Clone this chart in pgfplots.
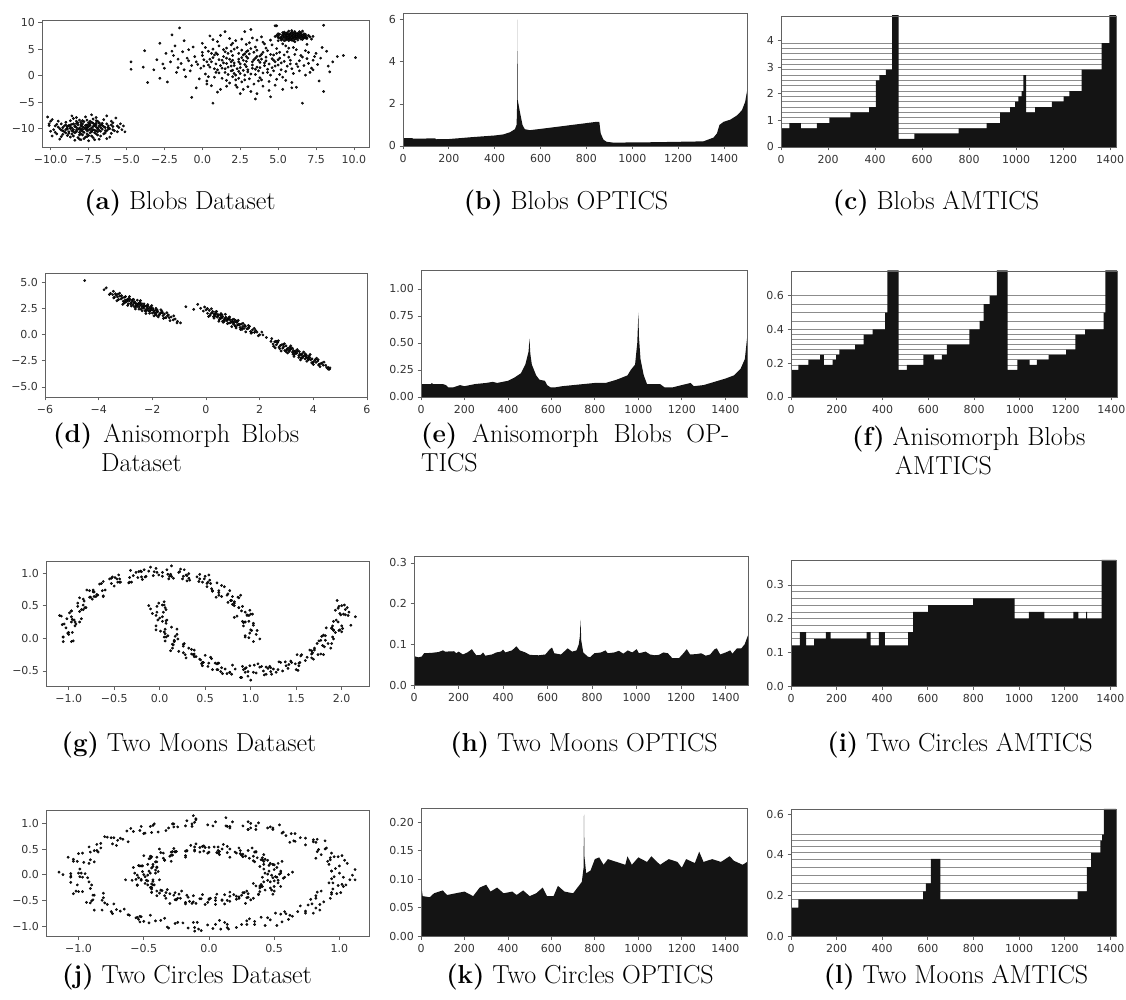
\documentclass[border=0pt]{standalone}
\usepackage{fontspec}
\usepackage{pgfplots}
\pgfplotsset{compat=1.18}
\newfontfamily\dejavu{DejaVu Sans}
\newcommand\tickfont{\dejavu\fontsize{11}{12}\selectfont}
\newcommand\capfont{\fontsize{26}{31}\selectfont}
\definecolor{framegray}{gray}{0.38}
\definecolor{ticktext}{gray}{0.2}
\definecolor{fillblack}{gray}{0.08}
\definecolor{linegray}{gray}{0.55}
\definecolor{dotcol}{gray}{0.1}
\pgfplotsset{
  panel/.style={scale only axis, anchor=south west,
    axis line style={framegray, line width=0.8pt},
    every tick/.style={framegray, line width=0.8pt},
    major tick length=3.5pt, tick align=outside,
    xtick pos=left, ytick pos=left,
    ticklabel style={font=\tickfont, text=ticktext},
    xticklabel shift=1.5pt,
    axis on top},
  dots/.style={only marks, mark=*, mark size=1.2pt, mark options={draw=none, fill=dotcol}},
  optics/.style={panel, xmin=0, xmax=1500, ymin=0, xtick={0,200,...,1400}, xticklabels={0,200,400,600,800,1000,1200,1400}},
  amtics/.style={panel, xmin=0, ymin=0, xtick={0,200,...,1400}, xticklabels={0,200,400,600,800,1000,1200,1400}},
  blk/.style={fill=fillblack, draw=none},
  lev/.style={linegray, line width=0.7pt, unbounded coords=jump},
}
\begin{document}
\begin{tikzpicture}
\useasboundingbox (0pt,0pt) rectangle (1126pt,999pt);
% (a)
\begin{axis}[panel, at={(42pt,852pt)}, width=327pt, height=127pt,
  xmin=-10.57, xmax=10.99, ymin=-13.47, ymax=10.5,
  xtick={-10,-7.5,-5,-2.5,0,2.5,5,7.5,10}, xticklabels={−10.0,−7.5,−5.0,−2.5,0.0,2.5,5.0,7.5,10.0},
  ytick={-10,-5,0,5,10}, yticklabels={−10,−5,0,5,10}]
\addplot[dots] coordinates {
(-7.8,-9.8)(-8.2,-10.1)(-7.1,-9.4)(-8.9,-9.9)(-6.8,-10.3)(-7.5,-8.9)(-8.4,-10.8)(-7.9,-11.2)(-6.5,-9.6)(-9.2,-10.4)
(-8.6,-9.2)(-7.3,-10.6)(-6.9,-8.6)(-8.1,-8.4)(-9.5,-9.7)(-7.6,-10.0)(-7.0,-11.0)(-8.8,-10.9)(-6.2,-10.1)(-7.4,-9.1)
(-8.0,-9.5)(-9.0,-8.8)(-6.6,-9.0)(-7.7,-11.6)(-8.5,-11.4)(-6.0,-9.3)(-9.8,-10.2)(-7.2,-8.2)(-8.3,-7.9)(-6.4,-10.8)
(-7.9,-10.5)(-8.7,-10.0)(-7.0,-9.7)(-9.3,-9.1)(-6.7,-11.4)(-8.1,-12.0)(-7.5,-12.3)(-5.8,-10.4)(-9.6,-11.0)(-10.1,-9.4)
(-5.5,-9.8)(-5.1,-10.6)(-5.7,-8.0)(-10.2,-7.8)(-9.9,-8.3)(-6.3,-7.6)(-7.3,-7.4)(-8.6,-7.6)(-9.4,-12.0)(-7.1,-12.1)
(-6.1,-11.6)(-5.3,-10.2)(-8.3,-9.0)(-7.6,-9.3)(-7.2,-10.2)(-8.0,-10.4)(-6.9,-9.9)(-8.4,-9.6)(-7.4,-10.8)(-6.7,-10.5)
(-9.1,-10.6)(-8.9,-11.3)(-6.3,-9.1)(-7.8,-8.7)(-8.7,-8.5)(-7.0,-8.5)(-5.9,-8.9)(-9.7,-9.5)(-10.0,-10.5)(-6.0,-10.9)
(-7.6,-11.0)(-8.2,-11.7)(-6.8,-12.0)(-7.3,-11.4)(-9.3,-11.5)(-5.6,-9.5)(-8.5,-8.1)(-7.7,-7.8)(-6.5,-8.3)(-9.0,-9.3)
(-8.1,-9.9)(-7.5,-9.6)(-7.9,-10.2)(-6.4,-9.8)(-8.6,-10.4)(-7.2,-9.0)(-8.8,-9.4)(-7.0,-10.4)(-6.6,-10.1)(-8.3,-10.6)
(-9.4,-10.0)(-6.2,-9.5)(-7.4,-8.6)(-8.0,-8.8)(-6.9,-11.2)(-7.8,-11.9)(-8.4,-12.2)(-5.4,-9.1)(-9.5,-8.6)(-10.1,-9.1)
(-7.1,-9.2)(-8.7,-9.7)(-7.6,-10.4)(-6.1,-10.0)(-8.2,-9.3)(-7.3,-9.9)(-6.7,-9.3)(-9.2,-9.8)(-7.9,-9.1)(-8.5,-10.2)
(-6.8,-9.5)(-7.5,-10.3)(-8.9,-10.1)(-6.3,-10.4)(-7.7,-9.4)(-8.1,-10.7)(-7.0,-9.0)(-8.6,-11.0)(-9.0,-10.8)(-5.9,-9.6)
(-7.6,-9.7)(-8.3,-10.3)(-7.2,-9.6)(-8.0,-9.2)(-7.4,-10.1)(-8.6,-9.9)(-6.9,-10.0)(-7.8,-10.7)(-8.2,-8.9)(-7.0,-9.3)
(-7.7,-10.1)(-8.4,-9.4)(-6.6,-9.4)(-7.3,-8.8)(-8.8,-10.6)(-7.5,-11.3)(-6.4,-10.4)(-9.1,-9.5)(-7.9,-8.5)(-8.0,-11.0)
(-7.1,-10.8)(-8.5,-9.1)(-6.8,-8.9)(-9.3,-10.3)(-7.6,-8.4)(-6.2,-9.8)(-8.7,-11.6)(-7.2,-11.7)(-9.6,-9.2)(-5.9,-10.2)
(-8.1,-10.1)(-7.4,-9.4)(-7.9,-9.6)(-6.7,-9.8)(-8.5,-10.6)(-7.1,-10.3)(-8.9,-9.6)(-7.6,-11.5)(-6.5,-11.0)(-9.7,-10.7)
(-8.3,-8.6)(-7.0,-7.9)(-9.2,-11.1)(-6.0,-8.6)(-8.0,-12.1)(-5.6,-10.6)(-10.0,-8.6)(-9.9,-11.4)(-6.3,-11.9)(-5.2,-9.5)
(-7.7,-9.9)(-8.3,-9.8)(-7.3,-10.4)(-8.0,-10.0)(-6.9,-10.6)(-8.7,-9.3)(-7.5,-9.3)(-8.1,-11.2)(-6.8,-9.0)(-9.0,-10.2)
(5.9,7.4)(5.5,7.6)(6.2,7.2)(5.7,7.0)(6.4,7.7)(5.2,7.3)(6.0,7.9)(5.8,6.8)(6.6,7.3)(5.4,7.9)
(6.1,6.9)(5.6,7.4)(6.3,8.0)(5.0,7.5)(6.8,7.5)(5.9,8.2)(5.3,6.9)(6.5,6.9)(5.7,7.8)(6.0,7.1)
(5.5,7.1)(6.2,7.6)(5.8,7.6)(6.4,7.2)(5.1,7.8)(6.7,7.9)(5.6,8.1)(6.1,8.3)(5.4,7.2)(6.9,7.2)
(5.9,6.7)(5.2,7.0)(6.3,6.7)(5.7,8.4)(6.5,8.1)(5.0,7.2)(4.9,7.6)(7.0,7.6)(6.6,6.8)(5.5,6.7)
(6.0,7.6)(5.8,7.3)(6.2,7.9)(5.6,7.7)(6.4,7.5)(5.3,7.6)(6.1,7.4)(5.9,7.0)(6.7,7.1)(5.4,8.2)
(6.3,7.4)(5.7,7.2)(6.0,8.0)(5.5,7.9)(6.5,7.6)(5.1,7.1)(6.8,7.8)(5.8,8.0)(6.2,7.0)(5.6,6.9)
(4.8,7.4)(7.1,7.3)(6.4,8.3)(5.3,8.1)(6.9,7.0)(5.2,6.7)(6.0,6.6)(5.9,8.5)(6.6,8.4)(5.4,6.6)
(6.1,7.7)(5.7,7.5)(6.3,7.1)(5.5,7.3)(6.0,7.3)(5.8,7.8)(6.2,7.4)(5.6,7.1)(6.4,7.9)(5.9,7.7)
(5.0,7.9)(6.7,7.4)(5.3,7.4)(6.5,7.3)(5.8,7.1)(6.1,8.1)(5.5,8.0)(6.3,7.8)(5.7,6.6)(6.8,7.1)
(6.0,7.5)(5.6,7.6)(6.2,7.8)(5.4,7.5)(6.6,7.6)(5.9,7.2)(6.1,7.0)(5.3,7.8)(6.5,7.8)(5.8,7.5)
(4.9,9.4)(7.3,7.4)(7.2,6.9)
(2.1,2.4)(3.5,1.2)(0.8,3.9)(4.2,2.8)(1.5,0.6)(2.9,4.5)(-0.3,2.1)(3.8,-0.4)(5.1,3.3)(1.1,5.6)
(2.6,-1.2)(4.6,1.5)(0.2,0.3)(3.1,6.2)(1.9,1.8)(5.5,0.8)(-1.0,3.3)(2.4,3.1)(3.9,4.0)(0.6,-1.9)
(4.9,5.1)(2.0,-0.2)(1.3,2.9)(3.3,2.0)(-0.6,5.4)(5.8,2.2)(2.8,0.1)(0.0,6.1)(4.4,-1.1)(1.7,4.2)
(3.6,3.6)(-1.6,1.5)(2.3,5.3)(6.1,4.0)(1.0,1.1)(4.0,0.5)(2.7,-2.6)(0.4,4.6)(5.3,-0.3)(3.0,3.3)
(-2.1,2.6)(1.6,-0.9)(4.7,3.9)(2.2,6.6)(0.9,2.2)(3.4,-1.6)(5.9,1.3)(1.4,3.6)(2.5,1.5)(-0.2,-0.6)
(4.3,4.7)(3.7,0.9)(0.5,1.6)(2.9,2.7)(6.4,2.8)(1.8,7.0)(-1.3,4.5)(3.2,-3.0)(5.0,2.0)(2.0,3.8)
(0.1,3.0)(4.1,1.9)(2.6,4.8)(-0.8,0.9)(3.5,5.4)(1.2,-2.6)(5.6,4.5)(2.4,0.8)(0.7,5.0)(3.8,2.5)
(-1.9,3.8)(4.5,0.1)(1.5,1.3)(2.8,-0.8)(6.7,1.9)(0.3,-1.0)(3.1,4.1)(5.2,1.1)(1.9,2.6)(-0.5,3.6)
(2.2,-1.8)(4.8,2.6)(1.0,6.4)(3.6,1.6)(-1.1,-0.2)(2.7,3.9)(5.7,3.5)(0.6,2.6)(4.0,-2.0)(1.7,0.2)
(3.3,7.1)(-2.5,1.4)(2.0,1.0)(6.0,0.4)(0.9,4.3)(3.9,3.1)(1.3,-0.5)(4.6,5.8)(2.5,2.2)(-0.1,1.4)
(5.4,2.7)(2.9,5.9)(1.6,3.3)(3.7,-1.0)(0.2,5.3)(4.3,1.2)(-1.4,2.3)(2.3,-2.2)(6.9,3.2)(1.1,0.5)
(3.0,1.1)(4.9,-0.7)(0.4,2.0)(2.6,6.9)(5.1,4.4)(1.8,-1.4)(-0.9,4.9)(3.4,4.4)(2.1,0.4)(7.0,2.3)
(0.8,-0.3)(4.2,3.5)(1.4,4.9)(3.2,0.3)(-1.7,0.6)(5.5,5.6)(2.4,-0.5)(0.0,3.8)(4.7,0.9)(1.9,5.8)
(7.3,2.9)(6.3,1.7)(7.1,0.6)(6.5,3.8)(7.6,2.1)(6.8,0.1)(5.9,-1.3)(7.4,3.6)(6.2,4.9)(7.2,1.4)
(-4.7,2.6)(-4.7,1.2)(-3.8,4.7)(-3.9,1.6)(-3.6,-1.3)(-2.8,6.1)(-2.4,4.2)(-1.5,9.0)(-2.0,7.7)(-0.7,-4.1)
(0.7,-5.2)(6.6,-5.2)(4.5,-4.0)(9.3,3.8)(10.1,3.4)(8.0,9.5)(8.0,-3.0)(7.7,-1.0)(8.3,1.8)(8.4,0.7)
(8.2,4.6)(3.2,8.7)(4.8,9.4)(1.5,8.3)(6.2,-2.2)(-2.8,-0.5)(-2.3,-1.2)(-1.2,6.6)(0.5,7.5)(2.8,8.3)
(-0.4,-2.3)(1.0,-3.1)(3.6,-3.4)(5.3,-2.6)(7.9,5.3)(-3.0,3.0)(-1.8,5.6)(7.5,4.2)(8.6,2.6)(5.0,6.6)
(4.5,6.7)(3.9,7.3)(6.9,5.9)(4.1,6.0)(5.7,5.2)
(1.2,1.9)(2.7,2.9)(3.4,3.0)(0.3,2.6)(4.4,2.2)(1.8,3.1)(2.2,0.1)(3.0,4.7)(5.0,3.0)(1.6,2.3)
(2.9,1.7)(0.7,3.4)(3.8,1.5)(2.4,4.2)(4.6,3.2)(1.3,1.4)(3.3,2.6)(5.6,1.8)(0.9,0.6)(2.6,3.4)
(4.0,4.4)(1.9,0.9)(3.5,0.2)(0.1,1.8)(2.1,5.0)(4.8,1.8)(3.1,-0.6)(1.5,4.5)(5.4,3.9)(2.8,2.1)
(0.5,3.1)(3.7,2.9)(2.0,2.9)(4.3,0.6)(1.1,3.0)(3.2,5.1)(5.8,2.9)(2.3,1.3)(-0.4,2.6)(4.1,2.4)
(1.7,1.6)(3.6,4.8)(2.5,0.4)(0.8,1.3)(4.9,4.2)(2.9,3.6)(1.4,2.4)(3.9,-0.8)(5.2,2.4)(0.0,4.4)
(2.7,1.0)(4.5,4.0)(1.0,4.0)(3.3,1.4)(6.2,2.2)(1.9,4.6)(3.8,3.7)(2.1,1.9)(-0.7,1.9)(4.7,2.9)
(2.4,2.6)(3.0,0.7)(0.6,4.2)(5.1,0.2)(1.6,5.2)(3.5,3.3)(2.2,-0.8)(4.2,5.2)(0.4,-0.2)(2.8,4.1)
(6.6,3.5)(5.5,-0.9)(7.0,4.4)(6.0,5.3)(4.8,-1.8)(-1.2,1.1)(-0.9,2.8)(-2.0,4.6)(0.3,-1.6)(1.6,-2.0)
(3.0,-2.1)(2.0,6.1)(4.0,6.3)(5.3,6.0)(3.6,6.7)(6.4,0.9)(7.3,1.1)(-1.6,3.1)(0.7,6.8)(2.5,-3.4)
(4.4,-2.8)(5.9,-2.3)(7.8,3.3)(6.8,4.7)(-2.6,2.2)(-3.2,1.1)(1.2,7.6)(3.5,-4.4)(6.1,6.4)(8.9,3.6)};
\end{axis}
% (b)
\begin{axis}[optics, at={(403pt,853pt)}, width=344pt, height=133pt, ymax=6.32, ytick={0,2,4,6}, yticklabels={0,2,4,6}]
\addplot[blk] coordinates {(0,0.38)(40,0.37)(45,0.35)(140,0.36)(145,0.32)(200,0.33)(300,0.42)(400,0.5)(437,0.55)(466,0.65)(488,0.8)(495,1.0)(497,1.6)(498,4.0)(498.6,6.0)(499.2,4.0)(500,2.2)(510,1.6)(521,1.0)(531,0.8)(553,0.75)(700,0.95)(845,1.15)(856,1.15)(862,0.6)(874,0.3)(888,0.2)(917,0.16)(1100,0.18)(1310,0.22)(1354,0.4)(1369,0.6)(1380,1.0)(1398,1.15)(1427,1.25)(1456,1.45)(1478,1.7)(1492,2.1)(1500,2.6)} \closedcycle;
\end{axis}
% (c)
\begin{axis}[amtics, at={(781pt,852pt)}, width=335pt, height=131pt, xmax=1425, ymax=4.915, ytick={0,1,2,3,4}, yticklabels={0,1,2,3,4}]
\addplot[lev] coordinates {(0,0.5)(1425,0.5)(0,nan)(0,0.7)(1425,0.7)(0,nan)(0,0.9)(1425,0.9)(0,nan)(0,1.1)(1425,1.1)(0,nan)(0,1.3)(1425,1.3)(0,nan)(0,1.5)(1425,1.5)(0,nan)(0,1.7)(1425,1.7)(0,nan)(0,1.9)(1425,1.9)(0,nan)(0,2.1)(1425,2.1)(0,nan)(0,2.3)(1425,2.3)(0,nan)(0,2.5)(1425,2.5)(0,nan)(0,2.7)(1425,2.7)(0,nan)(0,2.9)(1425,2.9)(0,nan)(0,3.1)(1425,3.1)(0,nan)(0,3.3)(1425,3.3)(0,nan)(0,3.5)(1425,3.5)(0,nan)(0,3.7)(1425,3.7)(0,nan)(0,3.9)(1425,3.9)};
\addplot[blk, const plot] coordinates {(0,0.7)(35.5,0.9)(85,0.7)(153,0.9)(206,1.1)(295,1.3)(375,1.5)(404,2.5)(418,2.7)(446,2.9)(473,4.95)(500,0.3)(567,0.5)(756,0.7)(875,0.9)(932,1.3)(975,1.5)(996,1.7)(1010,1.9)(1024,2.1)(1031,2.7)(1043,1.3)(1081,1.5)(1152,1.7)(1202,1.9)(1227,2.1)(1279,2.9)(1364,3.9)(1397,4.95)(1425,4.95)} \closedcycle;
\end{axis}
% (d)
\begin{axis}[panel, at={(45pt,602pt)}, width=322pt, height=124pt,
  xmin=-6, xmax=6, ymin=-5.96, ymax=5.9,
  xtick={-6,-4,-2,0,2,4,6}, xticklabels={−6,−4,−2,0,2,4,6},
  ytick={-5,-2.5,0,2.5,5}, yticklabels={−5.0,−2.5,0.0,2.5,5.0}]
\addplot[dots] coordinates {
(-3.48,3.83)(-3.41,3.59)(-3.35,3.80)(-3.30,3.62)(-3.26,3.36)(-3.21,3.69)(-3.17,3.42)(-3.12,3.52)(-3.08,3.20)(-3.05,3.57)
(-3.01,3.31)(-2.97,3.17)(-2.93,3.37)(-2.90,2.95)(-2.86,3.24)(-2.83,3.38)(-2.79,3.02)(-2.76,3.18)(-2.72,2.86)(-2.69,3.02)
(-2.66,3.16)(-2.62,2.70)(-2.59,2.95)(-2.55,2.82)(-2.52,2.99)(-2.49,2.66)(-2.45,2.84)(-2.42,2.44)(-2.39,2.96)(-2.35,2.66)
(-2.32,2.53)(-2.28,2.72)(-2.25,2.36)(-2.21,2.72)(-2.18,2.52)(-2.14,2.30)(-2.11,2.52)(-2.07,2.33)(-2.03,2.52)(-2.00,2.07)
(-1.96,2.33)(-1.92,2.11)(-1.88,2.34)(-1.84,2.12)(-1.80,2.20)(-1.75,1.88)(-1.70,2.05)(-1.65,2.15)(-1.60,1.82)(-1.55,1.97)
(-1.49,1.64)(-1.43,1.81)(-1.37,1.62)(-1.30,1.70)(-1.22,1.42)(-1.15,1.50)(-1.06,1.28)(-0.95,1.13)
(-3.44,3.52)(-3.38,3.92)(-3.15,3.73)(-3.03,3.07)(-2.95,3.30)(-2.81,2.96)(-2.74,3.34)(-2.64,3.04)(-2.57,2.69)(-2.47,3.00)
(-2.37,2.61)(-2.30,2.78)(-2.23,2.26)(-2.16,2.72)(-2.09,2.27)(-2.05,2.43)(-1.98,2.50)(-1.90,2.00)(-1.82,2.35)(-1.72,1.99)
(-1.62,2.08)(-1.52,1.62)(-1.40,1.88)(-3.56,3.96)(-3.60,3.85)(-4.52,5.18)(-3.80,4.30)(-3.72,4.48)
(-3.45,4.15)(-3.32,3.24)(-3.22,3.97)(-3.10,2.90)(-3.00,3.65)(-2.92,2.80)(-2.85,3.65)(-2.78,2.75)(-2.70,3.38)(-2.63,2.46)
(-2.56,3.30)(-2.50,2.44)(-2.44,3.26)(-2.38,2.28)(-2.31,2.94)(-2.24,2.02)(-2.17,2.88)(-2.10,2.05)(-2.02,2.78)(-1.94,1.80)
(-1.86,2.52)(-1.78,1.70)(-1.68,2.38)(-1.58,1.56)(-1.46,2.10)(-1.34,1.34)(-1.20,1.80)(-1.08,1.13)(-3.28,3.88)(-3.05,3.03)
(-2.88,3.48)(-2.67,2.67)(-2.47,3.08)(-2.27,2.26)(-2.06,2.66)(-1.85,1.85)(-1.64,2.22)(-2.60,2.90)(-2.20,2.52)(-2.95,3.20)
(-1.95,2.30)(-2.40,2.80)
(-0.20,2.52)(-0.10,2.26)(0.00,2.37)(0.06,2.04)(0.12,2.32)(0.18,2.01)(0.23,2.10)(0.28,1.73)(0.33,1.91)(0.38,2.02)
(0.42,1.68)(0.46,1.82)(0.50,1.46)(0.54,1.92)(0.58,1.59)(0.62,1.71)(0.66,1.37)(0.70,1.53)(0.74,1.66)(0.78,1.33)
(0.82,1.46)(0.86,1.12)(0.90,1.43)(0.94,1.23)(0.98,1.43)(1.02,1.01)(1.06,1.17)(1.10,0.79)(1.14,1.19)(1.18,0.92)
(1.22,1.02)(1.27,0.69)(1.32,1.02)(1.37,0.77)(1.42,0.60)(1.47,0.80)(1.53,0.56)(1.59,0.64)(1.66,0.30)(1.73,0.46)
(1.81,0.22)(1.90,0.25)(2.00,-0.01)(2.12,-0.02)(2.25,-0.26)
(0.15,1.84)(0.25,2.22)(0.35,1.79)(0.45,1.92)(0.52,1.59)(0.60,1.88)(0.68,1.28)(0.76,1.43)(0.84,1.54)(0.92,1.16)
(1.00,1.25)(1.08,0.88)(1.16,1.26)(1.25,0.95)(1.34,0.58)(1.44,0.91)(1.56,0.59)(1.70,0.21)(1.85,0.41)
(-0.75,2.68)(-0.46,2.42)(-0.31,2.90)
(-0.05,2.65)(0.10,1.74)(0.20,2.48)(0.30,1.58)(0.40,2.22)(0.48,1.28)(0.56,2.01)(0.64,1.18)(0.72,1.95)(0.80,1.06)
(0.88,1.70)(0.96,0.77)(1.04,1.48)(1.12,0.64)(1.20,1.37)(1.29,0.50)(1.38,1.09)(1.48,0.27)(1.58,0.88)(1.68,0.14)
(1.80,0.61)(1.95,-0.11)(2.08,0.25)(0.05,2.50)(0.35,2.18)(0.62,1.28)(0.85,1.63)(1.10,1.36)(1.34,0.50)(1.62,0.80)
(0.55,1.66)(0.72,1.49)(0.98,1.19)(1.20,0.95)(0.30,1.98)
(2.42,-0.64)(2.50,-0.90)(2.56,-0.69)(2.62,-0.96)(2.67,-0.75)(2.72,-1.20)(2.77,-1.04)(2.82,-0.97)(2.86,-1.28)(2.90,-1.14)
(2.94,-1.51)(2.98,-1.07)(3.02,-1.38)(3.06,-1.29)(3.10,-1.60)(3.14,-1.44)(3.18,-1.34)(3.22,-1.67)(3.26,-1.53)(3.30,-1.89)
(3.34,-1.57)(3.38,-1.78)(3.42,-1.58)(3.46,-1.99)(3.50,-1.84)(3.54,-2.21)(3.58,-1.82)(3.62,-2.09)(3.66,-2.00)(3.70,-2.31)
(3.74,-1.97)(3.78,-2.22)(3.82,-2.38)(3.86,-2.18)(3.90,-2.40)(3.95,-2.31)(4.00,-2.63)(4.05,-2.46)(4.10,-2.64)(4.16,-2.53)
(4.22,-2.82)(4.29,-2.76)(4.37,-2.92)(4.46,-2.93)(4.55,-3.14)(4.62,-3.17)(4.60,-3.30)
(2.60,-0.64)(2.75,-1.34)(2.88,-0.92)(3.00,-1.49)(3.12,-1.22)(3.24,-1.86)(3.36,-1.70)(3.48,-1.62)(3.60,-2.22)(3.72,-2.11)
(3.84,-2.05)(3.96,-2.67)(4.08,-2.36)(4.20,-2.90)(4.33,-2.70)(4.50,-3.16)(2.52,-1.10)
(2.45,-0.37)(2.58,-1.27)(2.70,-0.58)(2.80,-1.56)(2.92,-0.87)(3.04,-1.75)(3.16,-1.07)(3.28,-2.08)(3.40,-1.43)(3.52,-2.41)
(3.64,-1.66)(3.76,-2.54)(3.88,-1.89)(4.00,-2.85)(4.12,-2.25)(4.25,-3.05)(4.40,-2.62)(4.56,-3.30)(2.65,-0.64)(2.98,-1.62)
(3.22,-1.29)(3.46,-2.17)(3.70,-1.83)(3.94,-2.70)(4.18,-2.39)(3.10,-1.45)(3.30,-1.68)(3.55,-1.96)(3.80,-2.26)};
\end{axis}
% (e)
\begin{axis}[optics, at={(421pt,602pt)}, width=326pt, height=127pt, ymax=1.175,
  ytick={0,0.25,0.5,0.75,1}, yticklabels={0.00,0.25,0.50,0.75,1.00}]
\addplot[blk] coordinates {(0,0.12)(45,0.12)(50,0.13)(55,0.12)(100,0.12)(115,0.11)(125,0.09)(150,0.09)(165,0.10)(180,0.11)(200,0.10)(250,0.12)(300,0.13)(330,0.14)(350,0.13)(400,0.15)(430,0.18)(460,0.22)(480,0.3)(495,0.42)(499,0.54)(503,0.4)(510,0.3)(520,0.25)(530,0.2)(545,0.16)(570,0.15)(580,0.11)(595,0.09)(620,0.09)(650,0.1)(700,0.11)(750,0.12)(800,0.13)(850,0.13)(900,0.16)(950,0.2)(965,0.25)(985,0.3)(995,0.5)(998,0.65)(1000,0.78)(1003,0.55)(1010,0.35)(1025,0.2)(1040,0.12)(1100,0.12)(1120,0.09)(1160,0.09)(1200,0.11)(1240,0.13)(1255,0.10)(1300,0.11)(1350,0.14)(1400,0.17)(1440,0.2)(1470,0.26)(1490,0.35)(1500,0.54)} \closedcycle;
\end{axis}
% (f)
\begin{axis}[amtics, at={(791pt,602pt)}, width=326pt, height=126pt, xmax=1425, ymax=0.746,
  ytick={0,0.2,0.4,0.6}, yticklabels={0.0,0.2,0.4,0.6}]
\addplot[lev] coordinates {(0,0.16)(1425,0.16)(0,nan)(0,0.19)(1425,0.19)(0,nan)(0,0.22)(1425,0.22)(0,nan)(0,0.25)(1425,0.25)(0,nan)(0,0.28)(1425,0.28)(0,nan)(0,0.31)(1425,0.31)(0,nan)(0,0.34)(1425,0.34)(0,nan)(0,0.37)(1425,0.37)(0,nan)(0,0.40)(1425,0.40)(0,nan)(0,0.45)(1425,0.45)(0,nan)(0,0.50)(1425,0.50)(0,nan)(0,0.55)(1425,0.55)(0,nan)(0,0.60)(1425,0.60)};
\addplot[blk, const plot] coordinates {(0,0.16)(32,0.19)(76,0.22)(127,0.25)(144,0.19)(182,0.22)(197,0.25)(211,0.28)(280,0.31)(317,0.37)(357,0.40)(411,0.50)(421,0.75)(470,0.16)(506,0.19)(579,0.25)(626,0.22)(659,0.25)(681,0.31)(780,0.40)(824,0.45)(842,0.55)(868,0.60)(900,0.75)(947,0.16)(990,0.22)(1043,0.19)(1075,0.22)(1126,0.25)(1203,0.28)(1243,0.37)(1286,0.40)(1367,0.50)(1374,0.75)(1425,0.75)} \closedcycle;
\end{axis}
% (g)
\begin{axis}[panel, at={(46pt,313pt)}, width=323pt, height=125pt,
  xmin=-1.249, xmax=2.30, ymin=-0.73, ymax=1.184,
  xtick={-1,-0.5,0,0.5,1,1.5,2}, xticklabels={−1.0,−0.5,0.0,0.5,1.0,1.5,2.0},
  ytick={-0.5,0,0.5,1}, yticklabels={−0.5,0.0,0.5,1.0}]
\addplot[dots] coordinates {
(1.03,-0.05)(0.94,0.02)(1.01,0.12)(0.98,0.01)(1.07,0.12)(0.94,0.04)(1.03,0.20)(0.92,0.19)(1.00,0.13)(0.98,0.26)
(0.94,0.25)(1.03,0.23)(0.94,0.40)(1.00,0.37)(0.85,0.34)(0.96,0.36)(0.87,0.47)(0.98,0.35)(0.87,0.47)(0.90,0.42)
(0.82,0.54)(0.91,0.49)(0.75,0.55)(0.86,0.63)(0.80,0.52)(0.87,0.62)(0.75,0.68)(0.78,0.58)(0.79,0.58)(0.68,0.64)
(0.74,0.66)(0.65,0.73)(0.68,0.81)(0.65,0.70)(0.71,0.79)(0.58,0.72)(0.63,0.85)(0.52,0.84)(0.57,0.76)(0.55,0.89)
(0.47,0.86)(0.56,0.84)(0.44,0.98)(0.50,0.95)(0.33,0.89)(0.44,0.91)(0.32,0.99)(0.43,0.87)(0.29,0.97)(0.32,0.92)
(0.21,1.01)(0.30,0.96)(0.12,0.98)(0.23,1.06)(0.15,0.92)(0.22,1.02)(0.08,1.05)(0.11,0.95)(0.10,0.91)(-0.01,0.97)
(0.03,0.95)(-0.06,1.02)(-0.04,1.07)(-0.07,0.96)(-0.03,1.01)(-0.16,0.94)(-0.12,1.03)(-0.23,1.02)(-0.19,0.90)(-0.21,1.03)
(-0.29,0.96)(-0.20,0.94)(-0.32,1.04)(-0.26,1.01)(-0.44,0.91)(-0.33,0.93)(-0.45,0.97)(-0.34,0.85)(-0.47,0.91)(-0.44,0.86)
(-0.55,0.91)(-0.46,0.86)(-0.64,0.84)(-0.53,0.92)(-0.60,0.74)(-0.53,0.84)(-0.66,0.83)(-0.63,0.73)(-0.62,0.65)(-0.73,0.71)
(-0.68,0.66)(-0.77,0.73)(-0.73,0.74)(-0.76,0.63)(-0.70,0.64)(-0.83,0.57)(-0.77,0.63)(-0.88,0.62)(-0.82,0.47)(-0.84,0.60)
(-0.90,0.49)(-0.81,0.47)(-0.90,0.54)(-0.84,0.51)(-0.99,0.39)(-0.88,0.41)(-0.97,0.42)(-0.86,0.30)(-0.97,0.33)(-0.94,0.28)
(-1.02,0.30)(-0.93,0.25)(-1.07,0.21)(-0.96,0.29)(-1.00,0.09)(-0.93,0.19)(-1.03,0.16)(-1.00,0.06)(-0.95,-0.04)(-1.06,0.02)
(-0.97,-0.05)(-1.06,0.02)
(0.99,0.08)(1.06,0.06)(0.94,0.25)(0.92,0.24)(0.99,0.43)(0.82,0.50)(0.82,0.56)(0.77,0.73)(0.58,0.73)(0.53,0.86)
(0.52,0.79)(0.41,0.94)(0.25,0.91)(0.27,1.05)(0.09,0.98)(0.03,1.01)(-0.15,0.95)(-0.20,1.02)(-0.31,0.86)(-0.49,0.93)
(-0.43,0.86)(-0.62,0.87)(-0.72,0.71)(-0.69,0.67)(-0.72,0.64)(-0.84,0.44)(-0.86,0.44)(-0.97,0.25)(-1.05,0.22)(-0.96,0.09)(-1.01,0.08)
(1.10,-0.01)(0.91,0.26)(1.02,0.37)(0.82,0.32)(0.96,0.35)(0.80,0.64)(0.89,0.66)(0.62,0.63)(0.65,0.66)(0.49,0.91)
(0.54,0.97)(0.26,0.95)(0.30,0.88)(0.13,1.11)(0.13,0.95)(-0.17,1.05)(-0.10,1.09)(-0.33,0.86)(-0.24,0.93)(-0.50,0.80)
(-0.52,0.94)(-0.73,0.72)(-0.62,0.64)(-0.80,0.74)(-0.74,0.60)(-0.97,0.42)(-0.88,0.25)(-1.08,0.34)(-0.92,0.22)(-1.06,-0.05)
(-0.03,0.49)(0.06,0.47)(-0.01,0.54)(0.05,0.51)(-0.08,0.38)(0.04,0.40)(-0.03,0.40)(0.08,0.28)(0.00,0.31)(0.03,0.26)
(-0.02,0.28)(0.07,0.23)(-0.04,0.19)(0.07,0.27)(0.06,0.07)(0.13,0.17)(0.06,0.14)(0.09,0.04)(0.16,-0.04)(0.05,0.02)
(0.16,-0.05)(0.07,0.02)(0.17,0.03)(0.14,-0.09)(0.27,-0.08)(0.14,-0.15)(0.26,-0.09)(0.15,-0.10)(0.28,-0.25)(0.26,-0.12)
(0.26,-0.22)(0.35,-0.24)(0.32,-0.15)(0.38,-0.18)(0.29,-0.30)(0.40,-0.28)(0.37,-0.25)(0.48,-0.37)(0.44,-0.32)(0.47,-0.37)
(0.45,-0.33)(0.54,-0.38)(0.46,-0.39)(0.57,-0.31)(0.58,-0.48)(0.65,-0.38)(0.61,-0.38)(0.64,-0.48)(0.74,-0.54)(0.63,-0.48)
(0.77,-0.52)(0.68,-0.45)(0.80,-0.41)(0.77,-0.52)(0.92,-0.48)(0.79,-0.55)(0.94,-0.46)(0.83,-0.47)(0.97,-0.58)(0.95,-0.45)
(0.97,-0.51)(1.06,-0.53)(1.04,-0.41)(1.10,-0.44)(1.03,-0.52)(1.14,-0.50)(1.12,-0.43)(1.23,-0.55)(1.19,-0.46)(1.22,-0.51)
(1.21,-0.43)(1.30,-0.48)(1.22,-0.45)(1.33,-0.37)(1.35,-0.50)(1.42,-0.40)(1.38,-0.36)(1.41,-0.46)(1.50,-0.48)(1.39,-0.42)
(1.53,-0.42)(1.44,-0.35)(1.55,-0.27)(1.53,-0.38)(1.67,-0.30)(1.54,-0.37)(1.67,-0.24)(1.56,-0.25)(1.69,-0.32)(1.67,-0.19)
(1.68,-0.22)(1.77,-0.24)(1.73,-0.08)(1.79,-0.11)(1.70,-0.15)(1.81,-0.13)(1.77,-0.03)(1.88,-0.15)(1.82,-0.03)(1.85,-0.08)
(1.82,0.04)(1.91,-0.01)(1.80,0.05)(1.91,0.13)(1.90,0.02)(1.97,0.12)(1.90,0.19)(1.93,0.09)(2.00,0.10)(1.89,0.16)
(2.00,0.19)(1.91,0.26)(1.99,0.36)(1.96,0.25)(2.07,0.35)(1.94,0.28)(2.04,0.44)(1.93,0.43)(2.02,0.37)(2.00,0.50)
(1.97,0.49)(2.06,0.47)
(0.03,0.51)(-0.04,0.35)(0.03,0.33)(0.05,0.10)(0.01,0.11)(0.20,-0.01)(0.16,-0.03)(0.21,-0.20)(0.38,-0.24)(0.50,-0.26)
(0.53,-0.43)(0.64,-0.38)(0.67,-0.51)(0.72,-0.47)(0.94,-0.52)(0.99,-0.42)(1.17,-0.55)(1.17,-0.44)(1.28,-0.52)(1.49,-0.39)
(1.45,-0.37)(1.60,-0.34)(1.70,-0.18)(1.65,-0.18)(1.75,-0.04)(1.89,-0.08)(1.91,0.12)(1.89,0.15)(2.04,0.36)(1.98,0.38)(2.03,0.51)
(-0.12,0.50)(0.07,0.44)(-0.04,0.13)(0.19,0.14)(0.06,-0.04)(0.19,0.06)(0.12,-0.19)(0.38,-0.28)(0.35,-0.17)(0.56,-0.29)
(0.47,-0.42)(0.69,-0.54)(0.63,-0.39)(0.91,-0.43)(0.89,-0.60)(1.15,-0.56)(1.08,-0.39)(1.31,-0.36)(1.25,-0.47)(1.52,-0.49)
(1.51,-0.25)(1.74,-0.25)(1.62,-0.29)(1.80,-0.25)(1.78,0.03)(1.98,0.13)(1.83,0.16)(2.01,0.15)(1.96,0.46)(2.08,0.40)
(2.15,0.33)(-1.10,0.35)(1.00,-0.64)(0.90,-0.60)(2.10,0.20)(1.95,0.58)(0.05,0.56)(-0.10,0.45)};
\end{axis}
% (h)
\begin{axis}[optics, at={(414pt,314pt)}, width=334pt, height=129pt, ymax=0.317,
  ytick={0,0.1,0.2,0.3}, yticklabels={0.0,0.1,0.2,0.3}]
\addplot[blk] coordinates {(0,0.08)(5,0.07)(20,0.068)(35,0.07)(45,0.078)(80,0.079)(110,0.081)(130,0.085)(140,0.082)(180,0.083)(190,0.078)(200,0.082)(220,0.075)(240,0.08)(260,0.088)(270,0.08)(280,0.073)(300,0.074)(310,0.08)(320,0.072)(350,0.075)(370,0.08)(390,0.082)(400,0.087)(410,0.08)(440,0.085)(460,0.095)(475,0.085)(500,0.08)(520,0.074)(560,0.073)(590,0.075)(610,0.088)(620,0.092)(630,0.078)(660,0.075)(680,0.085)(690,0.09)(710,0.082)(730,0.085)(740,0.1)(745,0.12)(748,0.16)(751,0.11)(760,0.08)(780,0.07)(790,0.068)(810,0.078)(840,0.08)(860,0.085)(870,0.078)(900,0.08)(920,0.084)(940,0.077)(960,0.085)(980,0.08)(1000,0.088)(1010,0.078)(1040,0.082)(1060,0.075)(1080,0.073)(1100,0.074)(1120,0.08)(1140,0.078)(1160,0.066)(1190,0.066)(1210,0.078)(1225,0.088)(1240,0.075)(1270,0.076)(1290,0.078)(1310,0.072)(1330,0.075)(1350,0.088)(1360,0.09)(1375,0.075)(1400,0.08)(1420,0.085)(1430,0.077)(1450,0.09)(1470,0.09)(1485,0.1)(1495,0.115)(1500,0.122)} \closedcycle;
\end{axis}
% (i)
\begin{axis}[amtics, at={(791pt,313pt)}, width=325pt, height=126pt, xmax=1425, ymax=0.374,
  ytick={0,0.1,0.2,0.3}, yticklabels={0.0,0.1,0.2,0.3}]
\addplot[lev] coordinates {(0,0.12)(1425,0.12)(0,nan)(0,0.14)(1425,0.14)(0,nan)(0,0.16)(1425,0.16)(0,nan)(0,0.18)(1425,0.18)(0,nan)(0,0.20)(1425,0.20)(0,nan)(0,0.22)(1425,0.22)(0,nan)(0,0.24)(1425,0.24)(0,nan)(0,0.26)(1425,0.26)(0,nan)(0,0.28)(1425,0.28)(0,nan)(0,0.30)(1425,0.30)};
\addplot[blk, const plot] coordinates {(0,0.12)(39,0.16)(66,0.12)(101,0.14)(153,0.16)(174,0.14)(331,0.16)(349,0.12)(385,0.16)(411,0.12)(513,0.16)(535,0.22)(601,0.24)(798,0.26)(980,0.20)(1043,0.22)(1111,0.20)(1238,0.22)(1260,0.20)(1294,0.22)(1298,0.20)(1362,0.374)(1425,0.374)} \closedcycle;
\end{axis}
% (j)
\begin{axis}[panel, at={(46pt,63pt)}, width=323pt, height=126pt,
  xmin=-1.25, xmax=1.227, ymin=-1.195, ymax=1.26,
  xtick={-1,-0.5,0,0.5,1}, xticklabels={−1.0,−0.5,0.0,0.5,1.0},
  ytick={-1,-0.5,0,0.5,1}, yticklabels={−1.0,−0.5,0.0,0.5,1.0}]
\addplot[dots] coordinates {
(1.03,-0.05)(0.94,0.07)(1.00,0.17)(0.97,0.12)(1.06,0.22)(0.92,0.20)(0.99,0.35)(0.86,0.39)(0.93,0.33)(0.89,0.50)
(0.84,0.49)(0.90,0.52)(0.80,0.68)(0.83,0.69)(0.66,0.65)(0.74,0.71)(0.63,0.80)(0.70,0.72)(0.57,0.83)(0.56,0.81)
(0.45,0.91)(0.49,0.88)(0.32,0.91)(0.38,1.01)(0.30,0.88)(0.32,1.00)(0.18,1.03)(0.16,0.94)(0.16,0.91)(-0.01,0.97)
(0.03,0.95)(-0.11,1.02)(-0.10,1.07)(-0.18,0.95)(-0.13,0.99)(-0.31,0.91)(-0.27,0.99)(-0.43,0.96)(-0.39,0.83)(-0.45,0.94)
(-0.53,0.86)(-0.49,0.81)(-0.60,0.90)(-0.58,0.84)(-0.75,0.72)(-0.68,0.71)(-0.78,0.73)(-0.71,0.57)(-0.83,0.61)(-0.83,0.52)
(-0.92,0.54)(-0.85,0.44)(-1.00,0.41)(-0.91,0.44)(-0.96,0.24)(-0.91,0.29)(-1.01,0.26)(-0.99,0.11)(-0.95,0.02)(-1.06,0.02)
(-0.97,-0.05)(-1.06,-0.03)(-0.99,-0.04)(-1.01,-0.20)(-0.90,-0.20)(-1.02,-0.32)(-0.91,-0.27)(-1.00,-0.33)(-0.89,-0.49)(-0.89,-0.40)
(-0.90,-0.51)(-0.78,-0.58)(-0.82,-0.50)(-0.73,-0.57)(-0.82,-0.69)(-0.68,-0.71)(-0.71,-0.68)(-0.56,-0.84)(-0.61,-0.79)(-0.54,-0.87)
(-0.55,-0.83)(-0.41,-0.90)(-0.50,-0.91)(-0.34,-0.85)(-0.32,-1.02)(-0.20,-0.94)(-0.24,-0.93)(-0.16,-1.04)(-0.06,-1.09)(-0.11,-1.03)
(0.03,-1.05)(-0.01,-0.98)(0.12,-0.93)(0.14,-1.03)(0.29,-0.97)(0.21,-1.03)(0.35,-0.91)(0.29,-0.90)(0.43,-0.99)(0.45,-0.84)
(0.47,-0.88)(0.61,-0.87)(0.58,-0.72)(0.68,-0.72)(0.59,-0.76)(0.74,-0.71)(0.70,-0.61)(0.85,-0.69)(0.79,-0.57)(0.85,-0.58)
(0.82,-0.46)(0.93,-0.46)(0.82,-0.41)(0.95,-0.28)(0.94,-0.38)(1.03,-0.23)(0.95,-0.16)(0.99,-0.21)(1.05,-0.20)(0.94,-0.08)
(1.00,0.03)(0.94,0.07)(1.04,0.28)(0.93,0.29)(0.94,0.42)(0.83,0.45)(0.82,0.63)(0.74,0.58)(0.59,0.76)(0.66,0.80)
(0.47,0.93)(0.36,0.88)(0.36,0.95)(0.30,1.03)(0.14,0.94)(0.05,1.03)(-0.13,0.94)(-0.28,0.99)(-0.27,0.93)(-0.42,0.99)
(-0.44,0.82)(-0.63,0.85)(-0.70,0.67)(-0.66,0.69)(-0.86,0.59)(-0.86,0.47)(-0.88,0.47)(-1.04,0.30)(-1.04,0.26)(-0.98,0.03)
(-1.00,0.03)(-1.06,-0.15)(-0.92,-0.14)(-0.97,-0.33)(-0.88,-0.40)(-0.91,-0.55)(-0.80,-0.55)(-0.74,-0.76)(-0.75,-0.72)(-0.52,-0.82)
(-0.53,-0.81)(-0.46,-0.94)(-0.26,-0.95)(-0.12,-0.93)(-0.08,-1.06)(0.05,-0.97)(0.09,-1.06)(0.14,-0.97)(0.35,-0.97)(0.40,-0.83)
(0.56,-0.92)(0.55,-0.77)(0.64,-0.81)(0.82,-0.65)(0.76,-0.59)(0.88,-0.53)(0.94,-0.35)(0.86,-0.32)(0.92,-0.16)(1.02,-0.19)
(1.10,-0.01)(0.91,0.26)(1.02,0.37)(0.82,0.32)(0.96,0.35)(0.80,0.64)(0.89,0.66)(0.62,0.63)(0.65,0.66)(0.49,0.91)
(0.54,0.97)(0.26,0.95)(0.30,0.88)(0.13,1.11)(0.13,0.95)(-0.17,1.05)(-0.10,1.09)(-0.33,0.86)(-0.24,0.93)(-0.50,0.80)
(-0.52,0.94)(-0.73,0.72)(-0.62,0.64)(-0.80,0.74)(-0.74,0.60)(-0.97,0.42)(-0.88,0.25)(-1.08,0.34)(-0.92,0.22)(-1.06,-0.05)
(-1.12,0.00)(-0.93,-0.06)(-1.04,-0.37)(-0.81,-0.36)(-0.94,-0.54)(-0.81,-0.45)(-0.88,-0.69)(-0.62,-0.78)(-0.65,-0.67)(-0.45,-0.79)
(-0.53,-0.92)(-0.31,-1.04)(-0.37,-0.89)(-0.09,-0.93)(-0.11,-1.10)(0.15,-1.06)(0.08,-0.89)(0.31,-0.86)(0.25,-0.97)(0.52,-0.99)
(0.51,-0.75)(0.74,-0.75)(0.62,-0.79)(0.80,-0.75)(0.78,-0.48)(0.98,-0.37)(0.83,-0.34)(1.01,-0.35)(0.96,-0.04)(1.08,-0.10)
(-1.15,0.05)(1.12,-0.10)(1.12,0.10)(-0.12,1.15)
(0.43,0.03)(0.52,-0.05)(0.50,0.10)(0.46,0.07)(0.55,0.07)(0.47,0.22)(0.53,0.22)(0.39,0.16)(0.49,0.20)(0.41,0.29)
(0.50,0.19)(0.40,0.29)(0.42,0.26)(0.34,0.36)(0.41,0.33)(0.26,0.35)(0.36,0.45)(0.31,0.32)(0.35,0.44)(0.24,0.47)
(0.25,0.38)(0.28,0.36)(0.14,0.43)(0.21,0.42)(0.10,0.50)(0.14,0.55)(0.08,0.45)(0.16,0.50)(0.00,0.44)(0.07,0.54)
(-0.07,0.53)(-0.01,0.42)(-0.05,0.55)(-0.11,0.48)(-0.04,0.46)(-0.14,0.57)(-0.11,0.54)(-0.26,0.45)(-0.17,0.46)(-0.27,0.51)
(-0.18,0.37)(-0.29,0.44)(-0.28,0.38)(-0.37,0.43)(-0.30,0.36)(-0.44,0.35)(-0.35,0.42)(-0.40,0.25)(-0.35,0.32)(-0.45,0.32)
(-0.43,0.20)(-0.40,0.14)(-0.52,0.17)(-0.44,0.13)(-0.54,0.18)(-0.47,0.20)(-0.51,0.06)(-0.41,0.09)(-0.55,-0.01)(-0.46,0.07)
(-0.57,0.03)(-0.48,-0.11)(-0.50,0.00)(-0.52,-0.09)(-0.43,-0.13)(-0.49,-0.04)(-0.43,-0.10)(-0.55,-0.20)(-0.43,-0.20)(-0.49,-0.17)
(-0.36,-0.31)(-0.44,-0.25)(-0.40,-0.32)(-0.44,-0.28)(-0.33,-0.35)(-0.44,-0.35)(-0.32,-0.29)(-0.33,-0.46)(-0.23,-0.38)(-0.30,-0.37)
(-0.25,-0.48)(-0.18,-0.54)(-0.26,-0.49)(-0.15,-0.52)(-0.22,-0.46)(-0.12,-0.41)(-0.12,-0.53)(0.00,-0.48)(-0.10,-0.56)(0.01,-0.46)
(-0.07,-0.47)(0.05,-0.58)(0.05,-0.45)(0.05,-0.50)(0.16,-0.52)(0.12,-0.39)(0.21,-0.42)(0.10,-0.49)(0.23,-0.46)(0.19,-0.39)
(0.32,-0.49)(0.25,-0.40)(0.30,-0.44)(0.27,-0.35)(0.38,-0.38)(0.26,-0.35)(0.39,-0.26)(0.38,-0.39)(0.47,-0.26)(0.39,-0.22)
(0.43,-0.30)(0.50,-0.32)(0.40,-0.23)(0.50,-0.23)(0.42,-0.14)(0.49,-0.06)(0.47,-0.14)(0.57,-0.07)(0.45,-0.11)(0.54,0.01)
(0.55,0.03)(0.48,-0.01)(0.42,0.11)(0.52,0.14)(0.45,0.28)(0.49,0.20)(0.37,0.33)(0.34,0.27)(0.42,0.39)(0.24,0.41)
(0.26,0.40)(0.23,0.52)(0.07,0.47)(0.04,0.54)(0.07,0.42)(0.00,0.53)(-0.11,0.46)(-0.04,0.56)(-0.18,0.46)(-0.17,0.47)
(-0.29,0.38)(-0.28,0.45)(-0.34,0.28)(-0.45,0.36)(-0.34,0.28)(-0.46,0.31)(-0.51,0.17)(-0.43,0.16)(-0.40,0.15)(-0.47,-0.01)
(-0.45,0.03)(-0.52,-0.11)(-0.56,-0.09)(-0.44,-0.18)(-0.47,-0.12)(-0.37,-0.30)(-0.45,-0.25)(-0.40,-0.41)(-0.26,-0.35)(-0.34,-0.41)
(-0.24,-0.46)(-0.17,-0.40)(-0.25,-0.49)(-0.16,-0.44)(-0.03,-0.58)(0.00,-0.47)(-0.01,-0.54)(0.16,-0.42)(0.14,-0.50)(0.23,-0.45)
(0.21,-0.48)(0.30,-0.37)(0.34,-0.46)(0.29,-0.32)(0.48,-0.30)(0.40,-0.19)(0.41,-0.23)(0.53,-0.16)(0.58,-0.05)(0.53,-0.11)
(0.41,-0.05)(0.51,-0.04)(0.42,0.20)(0.56,0.26)(0.35,0.25)(0.46,0.18)(0.36,0.44)(0.43,0.30)(0.20,0.44)(0.33,0.52)
(0.16,0.34)(0.30,0.47)(0.08,0.39)(0.11,0.59)(-0.07,0.44)(0.06,0.43)(-0.10,0.60)(-0.03,0.53)(-0.26,0.44)(-0.18,0.34)
(-0.38,0.50)(-0.25,0.45)(-0.41,0.25)(-0.29,0.26)(-0.50,0.37)(-0.40,0.34)(-0.58,0.14)(-0.41,0.03)(-0.53,0.17)(-0.39,0.06)
(-0.59,-0.11)(-0.47,-0.20)(-0.54,-0.06)(-0.38,-0.10)(-0.55,-0.21)(-0.38,-0.36)(-0.42,-0.20)(-0.27,-0.40)(-0.44,-0.34)(-0.21,-0.32)
(-0.30,-0.56)(-0.06,-0.47)(-0.18,-0.57)(-0.05,-0.39)(-0.13,-0.56)(0.12,-0.57)(0.06,-0.38)(0.23,-0.43)(0.10,-0.50)(0.28,-0.56)
(0.16,-0.34)(0.39,-0.33)(0.29,-0.45)(0.49,-0.38)(0.34,-0.17)(0.50,-0.12)(0.36,-0.22)(0.55,-0.23)(0.45,0.01)(0.61,0.00)
(-0.64,-0.10)(0.64,0.05)};
\end{axis}
% (k)
\begin{axis}[optics, at={(421pt,63pt)}, width=326pt, height=128pt, ymax=0.2247,
  ytick={0,0.05,0.1,0.15,0.2}, yticklabels={0.00,0.05,0.10,0.15,0.20}]
\addplot[blk] coordinates {(0,0.09)(8,0.07)(40,0.068)(60,0.075)(100,0.08)(120,0.072)(160,0.075)(200,0.078)(240,0.07)(270,0.085)(300,0.09)(320,0.078)(350,0.085)(380,0.075)(420,0.078)(440,0.072)(470,0.08)(500,0.07)(530,0.075)(560,0.085)(580,0.07)(610,0.07)(630,0.088)(660,0.078)(700,0.075)(720,0.085)(740,0.095)(748,0.12)(750,0.213)(752,0.14)(760,0.11)(780,0.115)(800,0.135)(820,0.138)(840,0.125)(860,0.135)(900,0.13)(940,0.125)(950,0.14)(970,0.125)(1000,0.138)(1040,0.13)(1060,0.14)(1100,0.125)(1140,0.135)(1180,0.13)(1200,0.12)(1220,0.135)(1260,0.128)(1280,0.148)(1300,0.13)(1340,0.135)(1380,0.13)(1420,0.14)(1440,0.132)(1480,0.125)(1500,0.13)} \closedcycle;
\end{axis}
% (l)
\begin{axis}[amtics, at={(791pt,63pt)}, width=325pt, height=127pt, xmax=1425, ymax=0.626,
  ytick={0,0.2,0.4,0.6}, yticklabels={0.0,0.2,0.4,0.6}]
\addplot[lev] coordinates {(0,0.18)(1425,0.18)(0,nan)(0,0.22)(1425,0.22)(0,nan)(0,0.26)(1425,0.26)(0,nan)(0,0.30)(1425,0.30)(0,nan)(0,0.34)(1425,0.34)(0,nan)(0,0.38)(1425,0.38)(0,nan)(0,0.41)(1425,0.41)(0,nan)(0,0.44)(1425,0.44)(0,nan)(0,0.47)(1425,0.47)(0,nan)(0,0.50)(1425,0.50)};
\addplot[blk, const plot] coordinates {(0,0.14)(32,0.18)(579,0.22)(591,0.26)(613,0.38)(655,0.18)(1257,0.22)(1297,0.34)(1316,0.41)(1356,0.47)(1364,0.50)(1372,0.626)(1425,0.626)} \closedcycle;
\end{axis}
% captions
\node[anchor=base, font=\capfont] at (180pt,789pt) {\textbf{(a)} Blobs Dataset};
\node[anchor=base, font=\capfont] at (566pt,789pt) {\textbf{(b)} Blobs OPTICS};
\node[anchor=base, font=\capfont] at (936pt,789pt) {\textbf{(c)} Blobs AMTICS};
\node[anchor=base west, font=\capfont, inner sep=0pt] at (53pt,556pt) {\makebox[246pt][s]{\textbf{(d)} Anisomorph Blobs}};
\node[anchor=base west, font=\capfont, inner sep=0pt] at (101pt,527pt) {Dataset};
\node[anchor=base west, font=\capfont, inner sep=0pt] at (421pt,556pt) {\makebox[308pt][s]{\textbf{(e)} Anisomorph Blobs OP-}};
\node[anchor=base west, font=\capfont, inner sep=0pt] at (421pt,527pt) {TICS};
\node[anchor=base west, font=\capfont, inner sep=0pt] at (852pt,553pt) {\textbf{(f)} Anisomorph Blobs};
\node[anchor=base west, font=\capfont, inner sep=0pt] at (895pt,524pt) {AMTICS};
\node[anchor=base, font=\capfont] at (189pt,248pt) {\textbf{(g)} Two Moons Dataset};
\node[anchor=base, font=\capfont] at (584pt,248pt) {\textbf{(h)} Two Moons OPTICS};
\node[anchor=base, font=\capfont] at (960pt,248pt) {\textbf{(i)} Two Circles AMTICS};
\node[anchor=base, font=\capfont] at (187pt,16pt) {\textbf{(j)} Two Circles Dataset};
\node[anchor=base, font=\capfont] at (580pt,16pt) {\textbf{(k)} Two Circles OPTICS};
\node[anchor=base, font=\capfont] at (956pt,16pt) {\textbf{(l)} Two Moons AMTICS};
\end{tikzpicture}
\end{document}
